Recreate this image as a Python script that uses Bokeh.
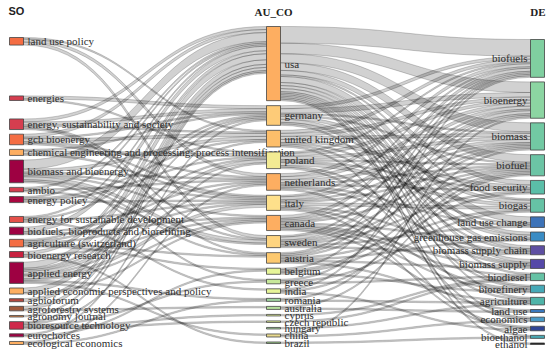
import numpy as np
from bokeh.plotting import figure
from bokeh.models import Range1d
from bokeh.embed import file_html
from bokeh.resources import INLINE
from bokeh.core.properties import value

# ---------------- DATA ----------------
field_titles = ["SO", "AU_CO", "DE"]

so_labels = ["land use policy", "energies", "energy, sustainability and society", "gcb bioenergy",
             "chemical engineering and processing: process intensification", "biomass and bioenergy",
             "ambio", "energy policy", "energy for sustainable development",
             "biofuels, bioproducts and biorefining", "agriculture (switzerland)", "bioenergy research",
             "applied energy", "applied economic perspectives and policy", "agbioforum",
             "agroforestry systems", "agronomy journal", "bioresource technology", "eurochoices",
             "ecological economics"]

au_labels = ["usa", "germany", "united kingdom", "poland", "netherlands", "italy", "canada", "sweden",
             "austria", "belgium", "greece", "india", "romania", "australia", "cyprus", "czech republic",
             "hungary", "china", "brazil"]

de_labels = ["biofuels", "bioenergy", "biomass", "biofuel", "food security", "biogas", "land use change",
             "greenhouse gas emissions", "biomass supply chain", "biomass supply", "biodiesel", "biorefinery",
             "agriculture", "land use", "economics", "algae", "bioethanol", "ethanol"]

# SO -> AU_CO links
so_au_source = (["land use policy"] * 3 + ["energies"] * 2 + ["energy, sustainability and society"] * 5
                + ["gcb bioenergy"] * 5
                + ["chemical engineering and processing: process intensification"] * 3
                + ["biomass and bioenergy"] * 8 + ["ambio"] * 3 + ["energy policy"] * 4
                + ["energy for sustainable development"] * 4 + ["biofuels, bioproducts and biorefining"] * 3
                + ["agriculture (switzerland)"] * 5 + ["bioenergy research"] * 3 + ["applied energy"] * 9
                + ["applied economic perspectives and policy"] * 2 + ["agbioforum"] + ["agroforestry systems"] * 2
                + ["agronomy journal"] + ["bioresource technology"] * 5 + ["eurochoices"] * 2
                + ["ecological economics"] * 2)
so_au_target = (["netherlands", "sweden", "united kingdom"]
                + ["germany", "poland"]
                + ["usa", "germany", "united kingdom", "sweden", "austria"]
                + ["usa", "united kingdom", "germany", "netherlands", "italy"]
                + ["poland", "germany", "italy"]
                + ["usa", "united kingdom", "sweden", "netherlands", "italy", "canada", "austria", "greece"]
                + ["sweden", "usa", "netherlands"]
                + ["usa", "united kingdom", "poland", "italy"]
                + ["usa", "india", "germany", "italy"]
                + ["usa", "canada", "netherlands"]
                + ["austria", "germany", "italy", "poland", "belgium"]
                + ["usa", "canada", "brazil"]
                + ["usa", "poland", "italy", "united kingdom", "germany", "canada", "china", "romania", "netherlands"]
                + ["usa", "canada"]
                + ["usa"]
                + ["usa", "australia"]
                + ["usa"]
                + ["usa", "poland", "greece", "cyprus", "czech republic"]
                + ["germany", "belgium"]
                + ["netherlands", "romania"])
so_au_value = ([2, 2, 1] + [2, 1] + [2, 2, 1, 1, 1] + [2, 2, 1, 1, 1] + [2, 1, 1]
               + [6, 2, 2, 1, 1, 1, 1, 1] + [1, 1, 1] + [1, 1, 1, 1] + [1, 1, 1, 1] + [3, 1, 1]
               + [1, 1, 1, 1, 1] + [2, 1, 1] + [4, 2, 2, 1, 1, 1, 1, 1, 1] + [3, 1] + [2] + [2, 1] + [1]
               + [1, 1, 1, 1, 1] + [1, 1] + [1, 1])

# AU_CO -> DE links
au_de_source = (["usa"] * 16 + ["germany"] * 8 + ["united kingdom"] * 7 + ["poland"] * 8
                + ["netherlands"] * 8 + ["italy"] * 8 + ["canada"] * 9 + ["sweden"] * 7 + ["austria"] * 7
                + ["belgium"] * 4 + ["greece"] * 3 + ["india"] * 3 + ["romania"] * 2 + ["australia"] * 2
                + ["cyprus"] + ["czech republic"] + ["hungary"] + ["china"] * 2 + ["brazil"])
au_de_target = (["biofuels", "bioenergy", "biomass", "biofuel", "food security", "biogas", "land use change",
                 "greenhouse gas emissions", "biomass supply chain", "biomass supply", "biodiesel", "biorefinery",
                 "agriculture", "economics", "bioethanol", "ethanol"]
                + ["biofuels", "bioenergy", "biomass", "biofuel", "biogas", "greenhouse gas emissions",
                   "biomass supply chain", "biorefinery"]
                + ["biofuels", "bioenergy", "biomass", "food security", "land use change", "biomass supply",
                   "economics"]
                + ["biofuels", "bioenergy", "biomass", "biofuel", "food security", "biogas", "agriculture",
                   "biomass supply"]
                + ["biofuels", "bioenergy", "biomass", "biofuel", "food security", "land use change",
                   "biomass supply chain", "algae"]
                + ["biofuels", "bioenergy", "biomass", "biofuel", "biogas", "biomass supply chain", "biorefinery",
                   "algae"]
                + ["biofuels", "bioenergy", "biomass", "biofuel", "greenhouse gas emissions", "biomass supply",
                   "biodiesel", "biorefinery", "land use"]
                + ["biofuels", "bioenergy", "biomass", "biofuel", "food security", "land use change",
                   "biomass supply chain"]
                + ["biofuels", "bioenergy", "biomass", "biogas", "greenhouse gas emissions", "biomass supply",
                   "agriculture"]
                + ["biofuels", "biofuel", "food security", "biorefinery"]
                + ["bioenergy", "biogas", "biodiesel"]
                + ["biofuels", "biofuel", "algae"]
                + ["biomass", "agriculture"]
                + ["biofuel", "land use"]
                + ["biodiesel"] + ["biodiesel"] + ["agriculture"]
                + ["bioenergy", "economics"]
                + ["bioethanol"])
au_de_value = ([11, 7, 6, 5, 3, 1, 4, 2, 2, 2, 1, 1, 1, 1, 1, 1]
               + [2, 3, 1, 1, 2, 2, 1, 1]
               + [2, 2, 2, 2, 1, 1, 1]
               + [1, 2, 2, 1, 1, 2, 1, 1]
               + [2, 2, 2, 1, 1, 1, 1, 1]
               + [1, 2, 1, 1, 2, 1, 1, 1]
               + [2, 1, 1, 1, 1, 1, 1, 1, 1]
               + [1, 2, 1, 1, 1, 1, 1]
               + [1, 1, 1, 1, 1, 1, 1]
               + [1, 1, 1, 1]
               + [1, 1, 1]
               + [1, 1, 1]
               + [1, 1]
               + [1, 1]
               + [1] + [1] + [1]
               + [1, 1]
               + [1])

# ---------------- STYLE ----------------
so_colors = ["#f46d43", "#d53e4f", "#d53e4f", "#f46d43", "#fdae61", "#9e0142", "#d53e4f", "#a8083f",
             "#e4504a", "#9e0142", "#f46d43", "#c8203f", "#9e0142", "#fdae61", "#b5473f", "#a0583c",
             "#e08a50", "#d0284a", "#9e0142", "#fdae61"]
au_colors = ["#fdae61", "#fdcb78", "#fdbe6a", "#f3eb93", "#fdae61", "#fee08b", "#fdae61", "#fed47f",
             "#fdc96f", "#e6f598", "#c7e89a", "#e6f598", "#9fd49e", "#b5e09c", "#e6f598", "#e6f598",
             "#abdda4", "#e8d98e", "#99c986"]
de_colors = ["#80cfa0", "#8cd5a2", "#72c9a3", "#6cc4a5", "#5bbea8", "#66c2a5", "#3d73b8", "#3a8cc4",
             "#5e4fa2", "#5548a8", "#66c2a5", "#46a9b7", "#4fb4a9", "#3a78bd", "#4a9ac6", "#2f4596",
             "#4aa8b2", "#1a1a1a"]

FONT = "Liberation Sans Narrow"
NODE_W = 14
COL_X0 = [9, 266, 530]
COL_EXTENT = [(37, 344), (26, 343), (39, 344)]
MID_PAD = 5
GAP_WEIGHTS = [[11, 4, 1, 1, 1, 1, 1, 3] + [1] * 11, None, None]

# ---------------- LAYOUT ----------------
columns = [so_labels, au_labels, de_labels]
links = [(so_au_source, so_au_target, so_au_value), (au_de_source, au_de_target, au_de_value)]

index = [{n: i for i, n in enumerate(c)} for c in columns]
inflow = [np.zeros(len(c)) for c in columns]
outflow = [np.zeros(len(c)) for c in columns]
for c, (src, tgt, val) in enumerate(links):
    for s, t, v in zip(src, tgt, val):
        outflow[c][index[c][s]] += v
        inflow[c + 1][index[c + 1][t]] += v
node_val = [np.maximum(inflow[c], outflow[c]) for c in range(3)]

ext = COL_EXTENT[1]
k = (ext[1] - ext[0] - MID_PAD * (len(au_labels) - 1)) / node_val[1].sum()

tops, bots = [], []
for c in range(3):
    h = node_val[c] * k
    n = len(h)
    w = GAP_WEIGHTS[c] if GAP_WEIGHTS[c] is not None else [1] * (n - 1)
    free = COL_EXTENT[c][1] - COL_EXTENT[c][0] - h.sum()
    gaps = [0] + [free * wi / sum(w) for wi in w]
    t = COL_EXTENT[c][0] + np.cumsum(gaps) + np.concatenate([[0], np.cumsum(h)[:-1]])
    tops.append(t)
    bots.append(t + h)

# link stacking
ts = np.linspace(0, 1, 30)
patch_xs, patch_ys = [], []
for c, (src, tgt, val) in enumerate(links):
    si = [index[c][s] for s in src]
    ti = [index[c + 1][t] for t in tgt]
    nl = len(val)
    ys0 = np.zeros(nl)
    yt0 = np.zeros(nl)
    for s in set(si):
        ids = sorted([j for j in range(nl) if si[j] == s], key=lambda j: tops[c + 1][ti[j]])
        y = tops[c][s]
        for j in ids:
            ys0[j] = y
            y += val[j] * k
    for t in set(ti):
        ids = sorted([j for j in range(nl) if ti[j] == t], key=lambda j: tops[c][si[j]])
        y = tops[c + 1][t]
        for j in ids:
            yt0[j] = y
            y += val[j] * k
    x0 = COL_X0[c] + NODE_W
    x1 = COL_X0[c + 1]
    xm = (x0 + x1) / 2
    bx = (1 - ts) ** 3 * x0 + 3 * (1 - ts) ** 2 * ts * xm + 3 * (1 - ts) * ts ** 2 * xm + ts ** 3 * x1
    for j in range(nl):
        wdt = val[j] * k
        a, b = ys0[j], yt0[j]
        ytop = (1 - ts) ** 3 * a + 3 * (1 - ts) ** 2 * ts * a + 3 * (1 - ts) * ts ** 2 * b + ts ** 3 * b
        patch_xs.append(list(bx) + list(bx[::-1]))
        patch_ys.append(list(ytop) + list((ytop + wdt)[::-1]))

# ---------------- PLOT ----------------
p = figure(width=550, height=353, x_range=Range1d(0, 550), y_range=Range1d(353, 0),
           output_backend="svg", toolbar_location=None, min_border=0)
p.axis.visible = False
p.grid.visible = False
p.outline_line_color = None
p.background_fill_color = "white"

p.patches(patch_xs, patch_ys, fill_color="black", fill_alpha=0.18,
          line_color="black", line_alpha=0.28, line_width=0.7)

colors = [so_colors, au_colors, de_colors]
for c in range(3):
    p.quad(left=[COL_X0[c]] * len(columns[c]), right=[COL_X0[c] + NODE_W] * len(columns[c]),
           top=list(tops[c]), bottom=list(bots[c]), fill_color=colors[c],
           line_color="#444444", line_width=0.8)
    mids = list((tops[c] + bots[c]) / 2)
    if c < 2:
        p.text(x=[COL_X0[c] + NODE_W + 4] * len(mids), y=mids, text=columns[c], text_align="left",
               text_baseline="middle", text_font=value(FONT), text_font_size="11px", text_color="#2e2e2e")
    else:
        p.text(x=[COL_X0[c] - 3] * len(mids), y=mids, text=columns[c], text_align="right",
               text_baseline="middle", text_font=value(FONT), text_font_size="11px", text_color="#2e2e2e")

p.text(x=[COL_X0[0] - 1], y=[10.5], text=[field_titles[0]], text_align="left", text_baseline="middle",
       text_font=value("Liberation Sans"), text_font_style="bold", text_font_size="11px", text_color="#222222")
p.text(x=[COL_X0[1] + NODE_W / 2], y=[11], text=[field_titles[1]], text_align="center", text_baseline="middle",
       text_font=value("Liberation Serif"), text_font_style="bold", text_font_size="11px", text_color="#222222")
p.text(x=[COL_X0[2] + NODE_W + 1], y=[11], text=[field_titles[2]], text_align="right", text_baseline="middle",
       text_font=value("Liberation Serif"), text_font_style="bold", text_font_size="11px", text_color="#222222")

open("out.html", "w").write(file_html(p, INLINE))
